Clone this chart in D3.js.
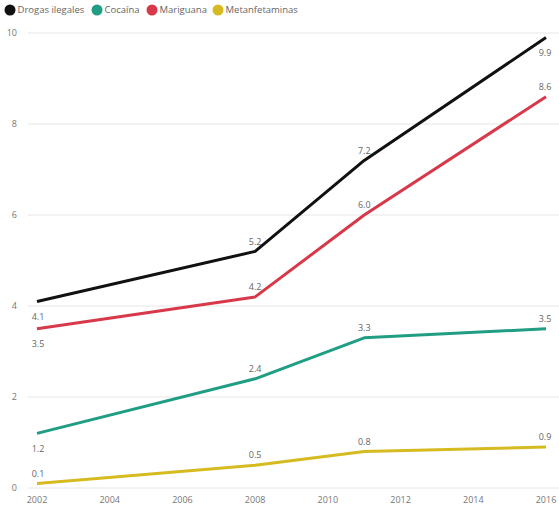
<!DOCTYPE html>
<html><head><meta charset="utf-8">
<script src="https://cdn.jsdelivr.net/npm/d3@7"></script>
<style>body{margin:0;background:#fff}svg{display:block;font-family:"Open Sans","DejaVu Sans",sans-serif}</style>
</head><body><svg id="c" width="559" height="514"></svg>
<script>
const years = [2002, 2008, 2011, 2016];
const seriesNames = ["Drogas ilegales", "Cocaína", "Mariguana", "Metanfetaminas"];
const drogasIlegales = [4.1, 5.2, 7.2, 9.9];
const cocaina = [1.2, 2.4, 3.3, 3.5];
const mariguana = [3.5, 4.2, 6.0, 8.6];
const metanfetaminas = [0.1, 0.5, 0.8, 0.9];
const yTicks = [0, 2, 4, 6, 8, 10];
const xTicks = [2002, 2004, 2006, 2008, 2010, 2012, 2014, 2016];
// label placement per point: 1 = above, -1 = below
const labelSide = {
  "Drogas ilegales": [-1, 1, 1, -1],
  "Cocaína": [-1, 1, 1, 1],
  "Mariguana": [-1, 1, 1, 1],
  "Metanfetaminas": [1, 1, 1, 1]
};
const colors = ["#111111", "#1f9e83", "#d8394a", "#d6bb20"];
const values = [drogasIlegales, cocaina, mariguana, metanfetaminas];

const svg = d3.select("#c");
const x = d3.scaleLinear().domain([2002, 2016]).range([37, 546]);
const y = d3.scaleLinear().domain([0, 10]).range([488, 33]);

// gridlines
svg.append("g").selectAll("line").data(yTicks).join("line")
  .attr("x1", 28).attr("x2", 559)
  .attr("y1", d => y(d)).attr("y2", d => y(d))
  .attr("stroke", "#e6e6e6").attr("stroke-width", 1);

// y axis labels
svg.append("g").selectAll("text").data(yTicks).join("text")
  .attr("x", 17).attr("y", d => y(d)).attr("dy", "0.35em")
  .attr("text-anchor", "end").attr("font-size", 9).attr("fill", "#777")
  .text(d => d);

// x axis labels
svg.append("g").selectAll("text").data(xTicks).join("text")
  .attr("x", d => x(d)).attr("y", 500).attr("dy", "0.35em")
  .attr("text-anchor", "middle").attr("font-size", 9).attr("fill", "#777")
  .text(d => d);

const line = d3.line().x(d => x(d.year)).y(d => y(d.v));

seriesNames.forEach((name, i) => {
  const pts = years.map((yr, j) => ({year: yr, v: values[i][j], side: labelSide[name][j]}));
  svg.append("path").datum(pts)
    .attr("d", line).attr("fill", "none")
    .attr("stroke", colors[i]).attr("stroke-width", 3)
    .attr("stroke-linejoin", "round");
  svg.append("g").selectAll("text").data(pts).join("text")
    .attr("x", d => x(d.year) + (d.year === 2016 ? -1 : d.year === 2002 ? 1 : 0))
    .attr("y", d => y(d.v) - (d.side > 0 ? 10 : -15))
    .attr("dy", "0.35em")
    .attr("text-anchor", "middle")
    .attr("font-size", 9).attr("fill", "#666")
    .text(d => d3.format(".1f")(d.v));
});

// legend
const legendX = [10, 97, 152, 218];
const lg = svg.append("g").selectAll("g").data(seriesNames).join("g")
  .attr("transform", (d, i) => `translate(${legendX[i]},10)`);
lg.append("circle").attr("r", 5.5).attr("fill", (d, i) => colors[i]);
lg.append("text").attr("x", 7.5).attr("dy", "0.35em")
  .attr("font-size", 9.5).attr("fill", "#666").text(d => d);
</script>
</body></html>
